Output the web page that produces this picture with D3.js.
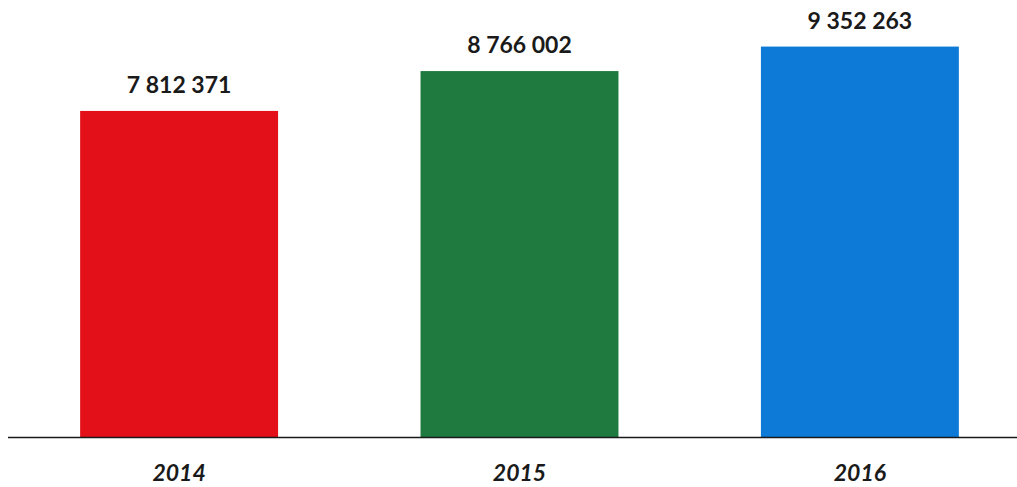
<!DOCTYPE html>
<html><head><meta charset="utf-8">
<script src="https://cdn.jsdelivr.net/npm/d3@7"></script>
<style>html,body{margin:0;padding:0;background:#fff;}svg{display:block;}</style>
</head><body>
<svg id="c" width="1017" height="487"></svg>
<script>
const categories = ["2014", "2015", "2016"];
const values = [7812371, 8766002, 9352263];
const valueLabels = ["7 812 371", "8 766 002", "9 352 263"];
const colors = ["#e3101a", "#1e7a3e", "#0c7ad6"];

const svg = d3.select("#c");
const baseY = 437.5;
const x = d3.scaleBand().domain(categories).range([9, 1030]).paddingInner(0.4185).paddingOuter(0.209);
const y = d3.scaleLinear().domain([0, 10000000]).range([baseY, baseY - 418]);

svg.selectAll("rect.bar").data(values).enter().append("rect")
  .attr("class", "bar")
  .attr("x", (d, i) => x(categories[i]))
  .attr("width", x.bandwidth())
  .attr("y", d => y(d))
  .attr("height", d => y(0) - y(d))
  .attr("fill", (d, i) => colors[i]);

svg.append("line").attr("x1", 8).attr("x2", 1017).attr("y1", baseY).attr("y2", baseY)
  .attr("stroke", "#1a1a1a").attr("stroke-width", 1.6);

svg.selectAll("text.val").data(values).enter().append("text")
  .attr("class", "val")
  .attr("x", (d, i) => x(categories[i]) + x.bandwidth() / 2)
  .attr("y", d => y(d) - 18)
  .attr("text-anchor", "middle")
  .attr("font-family", "Lato, 'Open Sans', sans-serif")
  .attr("font-weight", "bold")
  .attr("font-size", 23)
  .attr("fill", "#1a1a1a")
  .text((d, i) => valueLabels[i]);

svg.selectAll("text.cat").data(categories).enter().append("text")
  .attr("class", "cat")
  .attr("x", d => x(d) + x.bandwidth() / 2)
  .attr("y", 481)
  .attr("text-anchor", "middle")
  .attr("font-family", "Lato, 'Open Sans', sans-serif")
  .attr("font-weight", "bold")
  .attr("font-style", "italic")
  .attr("font-size", 23)
  .attr("fill", "#1a1a1a")
  .text(d => d);
</script>
</body></html>
